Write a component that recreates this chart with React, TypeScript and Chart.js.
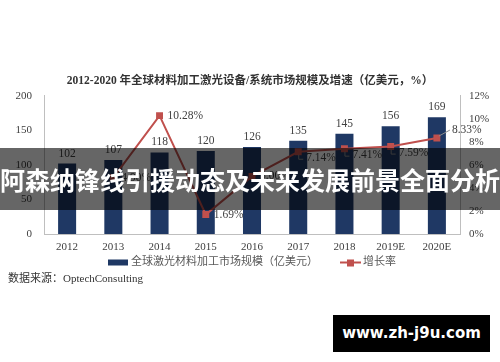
import React, { useEffect, useRef } from "react";
import { Chart, registerables } from "chart.js";

Chart.register(...registerables);

const titleText = "2012-2020 年全球材料加工激光设备/系统市场规模及增速（亿美元，%）";
const categories = ["2012", "2013", "2014", "2015", "2016", "2017", "2018", "2019E", "2020E"];
const marketSize = [102, 107, 118, 120, 126, 135, 145, 156, 169];
const growthRate: (number | null)[] = [null, 4.9, 10.28, 1.69, 5.0, 7.14, 7.41, 7.59, 8.33];
const growthLabels = ["", "4.90%", "10.28%", "1.69%", "5.00%", "7.14%", "7.41%", "7.59%", "8.33%"];
const barSeriesName = "全球激光材料加工市场规模（亿美元）";
const lineSeriesName = "增长率";
const sourceText = "数据来源：OptechConsulting";
const bannerText = "阿森纳锋线引援动态及未来发展前景全面分析";
const watermarkText = "www.zh-j9u.com";

const BAR_COLOR = "#1f3864";
const LINE_COLOR = "#c0504d";
const TEXT_COLOR = "#404040";
const AXIS_COLOR = "#bfbfbf";
const SERIF = '"Liberation Serif", "Noto Sans CJK SC", serif';

const labelPlugin = {
  id: "customLabels",
  afterDatasetsDraw(chart: any) {
    const ctx = chart.ctx;
    ctx.save();
    // bar value labels
    ctx.font = `11.5px ${SERIF}`;
    ctx.fillStyle = TEXT_COLOR;
    ctx.textAlign = "center";
    ctx.textBaseline = "middle";
    const barMeta = chart.getDatasetMeta(0);
    barMeta.data.forEach((el: any, i: number) => {
      ctx.fillText(String(marketSize[i]), el.x, el.y - 10);
    });
    // growth labels
    const lineMeta = chart.getDatasetMeta(1);
    ctx.textAlign = "left";
    ctx.strokeStyle = "#8c8c8c";
    ctx.lineWidth = 1;
    lineMeta.data.forEach((el: any, i: number) => {
      if (growthRate[i] == null) return;
      const x = el.x;
      const y = el.y;
      const txt = growthLabels[i];
      if (i >= 5 && i <= 7) {
        ctx.beginPath();
        ctx.moveTo(x + 0.5, y + 3);
        ctx.lineTo(x + 0.5, y + 7.5);
        ctx.lineTo(x + 5, y + 7.5);
        ctx.stroke();
        ctx.fillText(txt, x + 8, y + 6);
      } else if (i === 8) {
        ctx.beginPath();
        ctx.moveTo(x + 2, y - 2);
        ctx.lineTo(x + 13, y - 8);
        ctx.stroke();
        ctx.fillText(txt, x + 15, y - 8);
      } else {
        ctx.fillText(txt, x + 8, y);
      }
    });
    ctx.restore();
  },
  afterDraw(chart: any) {
    const ctx = chart.ctx;
    ctx.save();
    ctx.font = `11px ${SERIF}`;
    ctx.textBaseline = "middle";
    ctx.textAlign = "left";
    const w1 = ctx.measureText(barSeriesName).width;
    const w2 = ctx.measureText(lineSeriesName).width;
    const total = 20 + 3 + w1 + 22 + 21 + 2 + w2;
    let x = 252 - total / 2;
    const ly = 262.5;
    ctx.fillStyle = BAR_COLOR;
    ctx.fillRect(x, ly - 3, 20, 6);
    x += 23;
    ctx.fillStyle = "#595959";
    ctx.fillText(barSeriesName, x, ly);
    x += w1 + 22;
    ctx.strokeStyle = LINE_COLOR;
    ctx.lineWidth = 2;
    ctx.beginPath();
    ctx.moveTo(x, ly);
    ctx.lineTo(x + 21, ly);
    ctx.stroke();
    ctx.fillStyle = LINE_COLOR;
    ctx.fillRect(x + 7, ly - 3, 7, 7);
    x += 23;
    ctx.fillStyle = "#595959";
    ctx.fillText(lineSeriesName, x, ly);
    // source
    ctx.fillStyle = "#333333";
    ctx.fillText(sourceText, 8, 279.5);
    ctx.restore();
  },
};

export default function App() {
  const canvasRef = useRef<HTMLCanvasElement | null>(null);

  useEffect(() => {
    if (!canvasRef.current) return;
    const chart = new Chart(canvasRef.current, {
      type: "bar",
      data: {
        labels: categories,
        datasets: [
          {
            type: "bar",
            label: barSeriesName,
            data: marketSize,
            backgroundColor: BAR_COLOR,
            categoryPercentage: 1,
            barPercentage: 0.39,
            yAxisID: "y",
            order: 2,
          },
          {
            type: "line",
            label: lineSeriesName,
            data: growthRate,
            borderColor: LINE_COLOR,
            backgroundColor: LINE_COLOR,
            borderWidth: 2,
            pointStyle: "rect",
            pointRadius: 3.5,
            pointBackgroundColor: LINE_COLOR,
            pointBorderColor: LINE_COLOR,
            yAxisID: "y1",
            order: 1,
          } as any,
        ],
      },
      options: {
        responsive: false,
        animation: false,
        layout: { padding: { top: 74, bottom: 108, left: 0, right: 0 } },
        plugins: {
          legend: { display: false },
          tooltip: { enabled: false },
          title: {
            display: true,
            text: titleText,
            color: "#333333",
            font: { family: SERIF, size: 11.5, weight: "bold" },
            padding: { top: 0, bottom: 8 },
          },
        },
        scales: {
          x: {
            grid: { display: false, drawTicks: false },
            border: { color: AXIS_COLOR, width: 1 },
            ticks: { color: TEXT_COLOR, font: { family: SERIF, size: 11 }, padding: 7, maxRotation: 0 },
            afterFit: (s: any) => {
              s.height = 20;
            },
          },
          y: {
            position: "left",
            min: 0,
            max: 200,
            grid: { display: false, drawTicks: false },
            border: { color: AXIS_COLOR, width: 1 },
            ticks: { stepSize: 50, color: TEXT_COLOR, font: { family: SERIF, size: 11 }, padding: 12 },
            afterFit: (s: any) => {
              s.width = 44;
            },
          },
          y1: {
            position: "right",
            min: 0,
            max: 12,
            grid: { display: false, drawTicks: false },
            border: { color: AXIS_COLOR, width: 1 },
            ticks: {
              stepSize: 2,
              color: TEXT_COLOR,
              font: { family: SERIF, size: 11 },
              padding: 9,
              callback: (v: any) => `${v}%`,
            },
            afterFit: (s: any) => {
              s.width = 40;
            },
          },
        },
      },
      plugins: [labelPlugin],
    });
    return () => chart.destroy();
  }, []);

  return (
    <div style={{ position: "fixed", left: 0, top: 0, width: 500, height: 362, background: "#ffffff", overflow: "hidden" }}>
      <canvas ref={canvasRef} width={500} height={362} style={{ display: "block", width: 500, height: 362 }} />
      <div
        style={{
          position: "absolute",
          left: 0,
          top: 148,
          width: 500,
          height: 62,
          background: "rgba(0,0,0,0.6)",
          color: "#ffffff",
          fontFamily: '"Noto Sans CJK SC", sans-serif',
          fontWeight: 700,
          fontSize: 25,
          lineHeight: "62px",
          textAlign: "center",
          whiteSpace: "nowrap",
        }}
      >
        {bannerText}
      </div>
      <div
        style={{
          position: "absolute",
          left: 333,
          top: 315,
          width: 157,
          height: 37,
          background: "#000000",
          color: "#ffffff",
          fontFamily: '"DejaVu Sans", sans-serif',
          fontWeight: 700,
          fontSize: 15,
          lineHeight: "37px",
          textAlign: "center",
          whiteSpace: "nowrap",
        }}
      >
        {watermarkText}
      </div>
    </div>
  );
}
